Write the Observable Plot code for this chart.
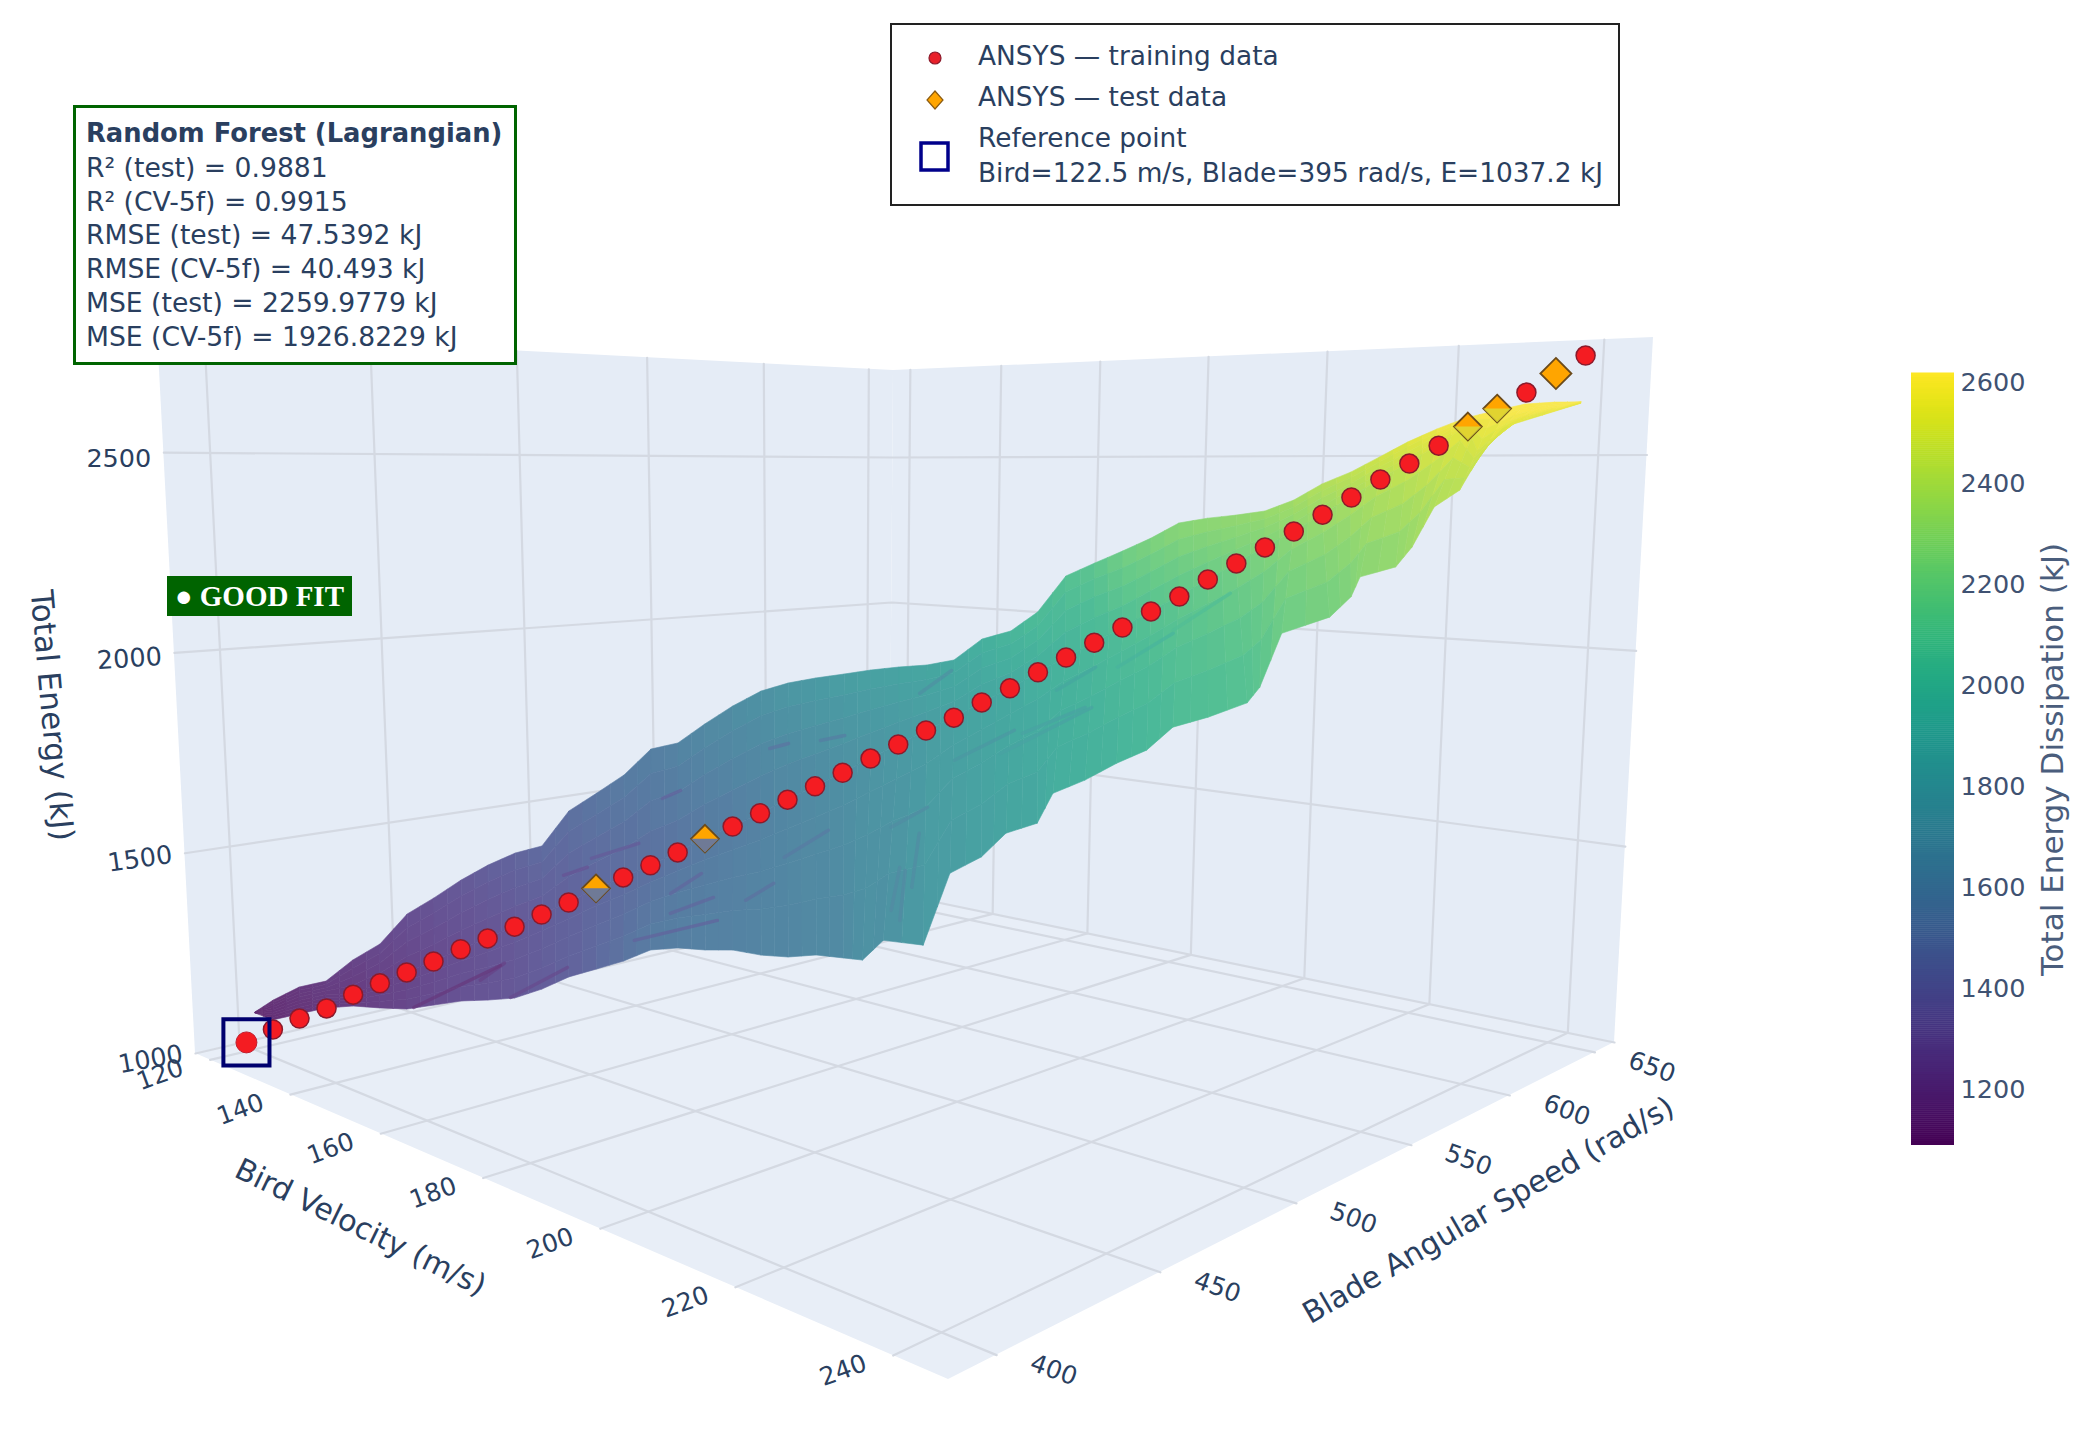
<!DOCTYPE html>
<html><head><meta charset="utf-8">
<script src="https://cdn.jsdelivr.net/npm/d3@7"></script>
<script src="https://cdn.jsdelivr.net/npm/@observablehq/plot@0.6"></script>
<style>
body{margin:0;background:#fff;font-family:"DejaVu Sans",sans-serif;color:#2a3f5f}
#root{position:relative;width:2098px;height:1429px;overflow:hidden}
#main svg{position:absolute;left:0;top:0}
.abs{position:absolute;white-space:nowrap}
</style></head><body><div id="root"><div id="main"></div>
<div class="abs" style="left:73px;top:105px;width:438px;height:254px;border:3.5px solid #006400;background:#fff;font-size:26.6px;line-height:33.8px;padding:0">
<div style="margin:9px 0 0 10px">
<div style="font-size:25.8px"><b>Random Forest (Lagrangian)</b></div><div>R² (test) = 0.9881</div><div>R² (CV-5f) = 0.9915</div><div>RMSE (test) = 47.5392 kJ</div><div>RMSE (CV-5f) = 40.493 kJ</div><div>MSE (test) = 2259.9779 kJ</div><div>MSE (CV-5f) = 1926.8229 kJ</div></div></div>
<div class="abs" style="left:167px;top:576px;width:185px;height:40px;background:#006400;color:#fff;font:bold 29px 'Liberation Serif',serif;line-height:40px;text-align:center">● GOOD FIT</div>
<div class="abs" style="left:890px;top:23px;width:726px;height:179px;border:2px solid #222;background:#fff;font-size:26.4px">
<svg width="90" height="180" style="position:absolute;left:0;top:0"><circle cx="43" cy="33" r="6" fill="#e8202a" stroke="#8b1a2b" stroke-width="1.2"/><path d="M43 66 L51 75 L43 84 L35 75Z" fill="#ffa500" stroke="#8a5a10" stroke-width="1.2"/><rect x="29" y="118" width="27" height="27" fill="none" stroke="#00008b" stroke-width="3.5"/></svg>
<div class="abs" style="left:86px;top:15px">ANSYS — training data</div>
<div class="abs" style="left:86px;top:56px">ANSYS — test data</div>
<div class="abs" style="left:86px;top:97px">Reference point</div>
<div class="abs" style="left:86px;top:132px">Bird=122.5 m/s, Blade=395 rad/s, E=1037.2 kJ</div>
</div>
<div id="cbar" class="abs" style="left:1911px;top:373px"></div>
</div>
<script>
// ANSYS sweep (training + test points)
const sweepBird=[122.5,125,127.5,130,132.5,135,137.5,140,142.5,145,147.5,150,152.5,155,157.5,160,162.5,165,167.5,170,172.5,175,177.5,180,182.5,185,187.5,190,192.5,195,197.5,200,202.5,205,207.5,210,212.5,215,217.5,220,222.5,225,227.5,230,232.5,235,237.5,240,242.5];
const sweepBlade=[395,400.1,405.2,410.4,415.5,420.6,425.7,430.8,436,441.1,446.2,451.3,456.4,461.6,466.7,471.8,476.9,482,487.2,492.3,497.4,502.5,507.6,512.8,517.9,523,528.1,533.2,538.4,543.5,548.6,553.7,558.8,564,569.1,574.2,579.3,584.4,589.6,594.7,599.8,604.9,610,615.2,620.3,625.4,630.5,635.6,640.8];
const sweepEnergy=[1037.2,1069,1096,1121,1155,1183,1210,1237,1267,1294,1323,1353,1383,1418,1445,1475,1507,1541,1571,1604,1638,1671,1705,1740,1775,1810,1842,1880,1915,1955,1992,2029,2067,2107,2144,2187,2227,2267,2307,2349,2392,2437,2477,2522,2570,2615,2655,2703,2748];
const testIndex=[13,17,44,45,47];
// Axis ticks
const birdTicks=[120,140,160,180,200,220,240];
const bladeTicks=[400,450,500,550,600,650];
const energyTicks=[1000,1500,2000,2500];
const colorTicks=[1200,1400,1600,1800,2000,2200,2400,2600];
// Random-forest surface: far edge, middle and near edge of the ribbon
const upperBird=[118.9,119.8,121.8,127.0,125.4,126.0,120.4,120.5,120.5,122.0,125.2,132.4,122.3,122.5,122.3,112.5,118.7,116.4,114.5,113.6,119.8,127.7,136.9,142.5,149.3,157.1,161.8,160.7,174.1,175.5,143.4,144.4,177.8,180.6,183.4,186.3,189.2,192.1,195.0,197.8,200.7,203.5,206.3,209.2,212.0,214.9,217.9,220.9,223.6];
const upperBlade=[402.1,406.7,412.4,414.4,424.9,432.9,449.5,458.6,468.2,475.7,480.8,479.4,505.5,516.1,527.3,555.4,556.0,571.9,588.1,603.0,603.5,600.4,594.4,594.7,592.6,587.7,589.0,604.6,584.8,593.4,691.1,704.7,627.7,633.7,639.6,645.8,651.8,658.0,664.1,670.0,676.1,682.2,688.1,694.1,700.2,706.3,712.7,719.0,724.6];
const upperEnergy=[1085,1110,1140,1170,1200,1230,1265,1295,1330,1365,1400,1440,1480,1520,1560,1590,1620,1660,1700,1735,1770,1800,1830,1850,1870,1890,1910,1960,2010,2060,2100,2140,2223,2260,2304,2318,2327,2339,2371,2418,2453,2497,2541,2579,2611,2632,2652,2658,2659];
const midBird=[119.2,123.2,125.9,131.0,132.5,135.1,137.6,140.1,142.7,145.1,147.5,150.1,152.6,155.2,157.7,160.2,162.6,164.9,167.5,170.2,172.5,175.2,177.5,180.0,182.6,185.1,187.5,190.1,192.8,195.2,197.5,200.0,202.6,205.1,207.4,210.2,212.4,214.9,217.4,219.8,222.3,224.7,227.1,229.6,232.1,244.8,246.8,248.8,252.8];
const midBlade=[401.8,402.6,407.3,409.3,415.6,420.6,425.8,431.0,436.0,441.2,446.5,451.5,456.5,461.7,466.9,471.8,477.0,482.3,487.5,492.4,497.7,502.6,508.2,513.1,518.2,523.3,528.5,533.2,538.4,543.2,548.7,554.3,558.9,563.9,569.5,574.0,579.7,585.0,590.3,595.4,600.6,605.9,610.9,616.1,621.3,576.7,580.8,585.1,593.6];
const midEnergy=[1085,1105,1130,1160,1155,1183,1210,1237,1267,1294,1323,1353,1383,1418,1445,1475,1507,1541,1571,1604,1638,1671,1705,1740,1775,1810,1842,1880,1915,1955,1992,2029,2067,2107,2144,2187,2227,2267,2307,2349,2392,2437,2477,2522,2570,2504,2554,2586,2614];
const lowerBird=[119.4,126.5,129.8,134.9,139.9,148.0,154.0,159.7,165.3,170.4,175.0,178.9,181.7,189.2,199.9,208.1,214.2,218.2,221.6,226.3,230.0,234.2,239.5,248.3,242.8,259.9,246.6,248.4,249.8,251.6,252.5,254.3,256.1,257.8,259.3,261.3,263.5,264.2,265.4,268.1,269.3,269.8,271.8,272.7,273.9,275.3,276.5,277.7,282.0];
const lowerBlade=[401.6,398.6,402.5,404.4,406.2,403.7,403.6,403.7,403.5,403.9,404.6,406.4,409.7,405.5,395.2,388.3,384.6,384.3,385.0,383.1,382.6,381.1,376.8,362.6,379.5,350.5,387.7,391.5,394.5,398.2,400.1,404.0,407.8,411.4,414.5,418.7,423.4,424.9,427.5,433.2,435.7,436.7,440.9,442.8,445.4,448.4,450.8,453.4,462.5];
const lowerEnergy=[1085,1100,1120,1150,1170,1200,1220,1250,1280,1300,1320,1350,1380,1430,1500,1560,1590,1600,1610,1620,1630,1650,1670,1720,1705,1800,1812,1838,1876,1892,1940,1961,1988,2009,2046,2062,2085,2110,2197,2223,2256,2288,2304,2336,2401,2428,2488,2530,2569];
// Short creases on the surface: two points each
const creaseBird=[202.3,194.6,183.5,177.7,203.2,199.2,192.6,192.0,191.1,188.5,126.0,122.4,133.2,131.3,150.0,148.8,145.3,141.7,142.2,140.3,163.9,159.5,246.6,235.5,244.8,229.0,249.5,236.7,161.5,143.4,225.0,220.0,220.3,209.8,234.8,226.4,225.3,213.6,244.5,226.1,253.0,227.3,241.9,226.9,159.0,150.4,179.5,173.7];
const creaseBlade=[436.8,466.6,437.1,457.4,423.4,439.6,410.4,435.9,423.5,441.3,536.0,550.0,568.2,580.3,556.2,569.2,476.1,499.3,471.2,482.7,411.1,424.8,373.0,399.9,382.1,420.0,368.6,398.7,574.1,631.1,420.9,443.1,450.9,496.9,436.6,479.0,472.0,517.4,440.0,511.9,432.8,530.7,412.5,479.9,398.7,437.0,396.6,421.9];
const creaseEnergy=[1655,1524,1588,1493,1524,1491,1621,1688,1447,1401,1309,1775,1793,1775,1826,1793,1879,1972,2011,2106,2186,1972,1252,1353];

// Scene box and camera
const birdMin=116.1,birdMax=246.3,bladeMin=387,bladeMax=662.5,eMin=1000,eMax=2800;
function s2q(p){const [[x0,y0],[x1,y1],[x2,y2],[x3,y3]]=p;
 const dx1=x1-x2,dx2=x3-x2,sx=x0-x1+x2-x3,dy1=y1-y2,dy2=y3-y2,sy=y0-y1+y2-y3,det=dx1*dy2-dx2*dy1;
 const g=(sx*dy2-dx2*sy)/det,h=(dx1*sy-sx*dy1)/det;
 const a=x1-x0+g*x1,b=x3-x0+h*x3,c=x0,d=y1-y0+g*y1,e=y3-y0+h*y3,f=y0;
 return (u,v)=>{const w=g*u+h*v+1;return [(a*u+b*v+c)/w,(d*u+e*v+f)/w];};}
const floorH=s2q([[195,1053],[948,1379],[1614,1042],[889,892]]);
const ceilH=s2q([[157,332],[940,258],[1653,337],[893,370]]);
function project(bird,blade,E){const u=(bird-birdMin)/(birdMax-birdMin),v=(blade-bladeMin)/(bladeMax-bladeMin),e=(E-eMin)/(eMax-eMin);
 const F=floorH(u,v),T=ceilH(u,v);return [F[0]+e*(T[0]-F[0]),F[1]+e*(T[1]-F[1])];}

const N=sweepBird.length;
const strandU=upperBird.map((b,k)=>[b,upperBlade[k],upperEnergy[k]]);
const strandC=midBird.map((b,k)=>[b,midBlade[k],midEnergy[k]]);
const strandL=lowerBird.map((b,k)=>[b,lowerBlade[k],lowerEnergy[k]]);
const strands=[strandU,strandC,strandL];
// Mesh: each surface cell is shaded in small facets
const rows=[];let id=0;const nA=2,nB=4;
function pt(i,a,s,b){const P=strands[s][i],Q=strands[s+1][i],P2=strands[s][i+1],Q2=strands[s+1][i+1],ta=a/nA,tb=b/nB;
 return [0,1,2].map(j=>(1-ta)*((1-tb)*P[j]+tb*Q[j])+ta*((1-tb)*P2[j]+tb*Q2[j]));}
for(let i=0;i<N-1;i++)for(let s=0;s<2;s++)for(let a=0;a<nA;a++)for(let b=0;b<nB;b++){
 const p00=pt(i,a,s,b),p01=pt(i,a,s,b+1),p10=pt(i,a+1,s,b),p11=pt(i,a+1,s,b+1);
 const E=(p00[2]+p01[2]+p10[2]+p11[2])/4;
 const A=project(...p00),B=project(...p01),C=project(...p10),D=project(...p11);
 rows.push({id,E,x1:A[0],y1:A[1],x2:B[0],y2:B[1]},{id,E,x1:C[0],y1:C[1],x2:D[0],y2:D[1]});id++;
}
const creases=creaseBird.map((b,j)=>{const E=creaseEnergy[Math.floor(j/2)];const q=project(b,creaseBlade[j],E);return {i:Math.floor(j/2),E,x:q[0],y:q[1]};});
function wall(p,q,r,s,idw){const a=project(...p),b=project(...q),c=project(...r),d=project(...s);
 return [{id:idw,x1:a[0],y1:a[1],x2:b[0],y2:b[1]},{id:idw,x1:c[0],y1:c[1],x2:d[0],y2:d[1]}];}
const walls=[...wall([birdMin,bladeMin,eMin],[birdMin,bladeMin,eMax],[birdMin,bladeMax,eMin],[birdMin,bladeMax,eMax],"l"),
 ...wall([birdMin,bladeMax,eMin],[birdMin,bladeMax,eMax],[birdMax,bladeMax,eMin],[birdMax,bladeMax,eMax],"r")];
const floorQ=wall([birdMin,bladeMin,eMin],[birdMax,bladeMin,eMin],[birdMin,bladeMax,eMin],[birdMax,bladeMax,eMin],"f");
const grid=[];let g=0;
function gl(pts){g++;pts.forEach(p=>{const q=project(...p);grid.push({g,x:q[0],y:q[1]});});}
birdTicks.forEach(t=>{gl([[t,bladeMin,eMin],[t,bladeMax,eMin],[t,bladeMax,eMax]]);});
bladeTicks.forEach(t=>{gl([[birdMax,t,eMin],[birdMin,t,eMin],[birdMin,t,eMax]]);});
energyTicks.forEach(t=>{gl([[birdMin,bladeMin,t],[birdMin,bladeMax,t],[birdMax,bladeMax,t]]);});
const dots=sweepBird.map((b,k)=>({bird:b,blade:sweepBlade[k],E:sweepEnergy[k],k,xy:project(b,sweepBlade[k],sweepEnergy[k]),test:testIndex.includes(k)}));
const halfDiamond={draw(ctx,size){const r=Math.sqrt(size)*0.62625;ctx.moveTo(-r,0);ctx.lineTo(0,r);ctx.lineTo(r,0);ctx.closePath();}};
const surfaceColor=t=>d3.interpolateRgb(d3.interpolateViridis(t),"#e4ecf6")(0.2);
const tc="#2a3f5f",ff="'DejaVu Sans',sans-serif";
const X=d=>d.xy[0],Y=d=>d.xy[1];
const chart=Plot.plot({width:2098,height:1429,margin:0,
 x:{domain:[0,2098],range:[0,2098],axis:null},y:{domain:[0,1429],range:[0,1429],axis:null},
 color:{type:"linear",domain:[1090,2618],interpolate:surfaceColor,clamp:true},
 style:{background:"transparent",fontFamily:ff},
 marks:[
  Plot.area(floorQ,{x1:"x1",y1:"y1",x2:"x2",y2:"y2",z:"id",fill:"#e8eef7"}),
  Plot.area(walls,{x1:"x1",y1:"y1",x2:"x2",y2:"y2",z:"id",fill:"#e5ecf6"}),
  Plot.line(grid,{x:"x",y:"y",z:"g",stroke:"#d4d9e2",strokeWidth:2.2}),
  Plot.area(rows,{x1:"x1",y1:"y1",x2:"x2",y2:"y2",z:"id",fill:"E",stroke:"E",strokeWidth:0.6}),
  Plot.line(creases,{x:"x",y:"y",z:"i",stroke:d=>d.E-120,strokeWidth:3.5,strokeOpacity:.7}),
  Plot.dot(dots.filter(d=>!d.test&&d.k>0),{x:X,y:Y,r:9.5,fill:"#f41c22",stroke:"#8b1a2b",strokeWidth:1.5}),
  Plot.dot(dots.filter(d=>d.k==0),{x:X,y:Y,r:10.5,fill:"#f41c22",stroke:"#c02030",strokeWidth:1}),
  Plot.dot(dots.filter(d=>d.test&&d.k!=47),{x:X,y:Y,r:12.5,symbol:"diamond2",fill:"#ffa500",stroke:"#6b4a1a",strokeWidth:1.8}),
  Plot.dot(dots.filter(d=>d.k==47),{x:X,y:Y,r:14,symbol:"diamond2",fill:"#ffa500",stroke:"#6b4a1a",strokeWidth:1.8}),
  Plot.dot(dots.filter(d=>d.k==13||d.k==17),{x:X,y:Y,r:12.5,symbol:halfDiamond,fill:"#6f7a96"}),
  Plot.dot(dots.filter(d=>d.k==44||d.k==45),{x:X,y:Y,r:12.5,symbol:halfDiamond,fill:"#dade3c",fillOpacity:.8}),
  Plot.dot(dots.filter(d=>d.k==0),{x:X,y:Y,r:26,symbol:"square",fill:"none",stroke:"#00006e",strokeWidth:4}),
  Plot.text(birdTicks,{x:t=>project(t,bladeMin,eMin)[0]-50,y:t=>project(t,bladeMin,eMin)[1]+15,text:t=>String(t),rotate:-20,fontSize:25,fill:tc}),
  Plot.text(bladeTicks,{x:t=>project(birdMax,t,eMin)[0]+57,y:t=>project(birdMax,t,eMin)[1]+15,text:t=>String(t),rotate:20,fontSize:25,fill:tc}),
  Plot.text(energyTicks,{x:t=>project(birdMin,bladeMin,t)[0]-45,y:t=>project(birdMin,bladeMin,t)[1]+6,text:t=>String(t),rotate:t=>t==1000?-10:t==1500?-8:t==2000?-4:0,fontSize:25.5,fill:tc}),
  Plot.text(["Bird Velocity (m/s)"],{x:()=>360,y:()=>1227,text:d=>d,rotate:26,fontSize:30,fill:tc}),
  Plot.text(["Blade Angular Speed (rad/s)"],{x:()=>1488,y:()=>1210,text:d=>d,rotate:-30,fontSize:30,fill:tc}),
  Plot.text(["Total Energy (kJ)"],{x:()=>51,y:()=>715,text:d=>d,rotate:85,fontSize:31,fill:tc}),
  Plot.text(["Total Energy Dissipation (kJ)"],{x:()=>2053,y:()=>759,text:d=>d,rotate:-90,fontSize:31,fill:"#4a5d7c"})
 ]});
document.getElementById("main").appendChild(chart);
const cbDomain=[1090,2618];
const cbSteps=d3.range(cbDomain[0],cbDomain[1],4);
const cbar=Plot.plot({width:180,height:772,marginLeft:0,marginRight:137,marginTop:0,marginBottom:0,
 x:{domain:[0,1],axis:null},y:{domain:cbDomain},color:{type:"linear",domain:cbDomain,scheme:"viridis"},
 style:{background:"transparent",fontFamily:ff,overflow:"visible"},
 marks:[Plot.rect(cbSteps,{x1:0,x2:1,y1:d=>d,y2:d=>d+5,fill:d=>d}),
 Plot.axisY(colorTicks,{anchor:"right",tickSize:0,tickPadding:6,fontSize:25.5,color:"#3f5272",tickFormat:d=>String(d),label:null})]});
document.getElementById("cbar").appendChild(cbar);
</script></body></html>
